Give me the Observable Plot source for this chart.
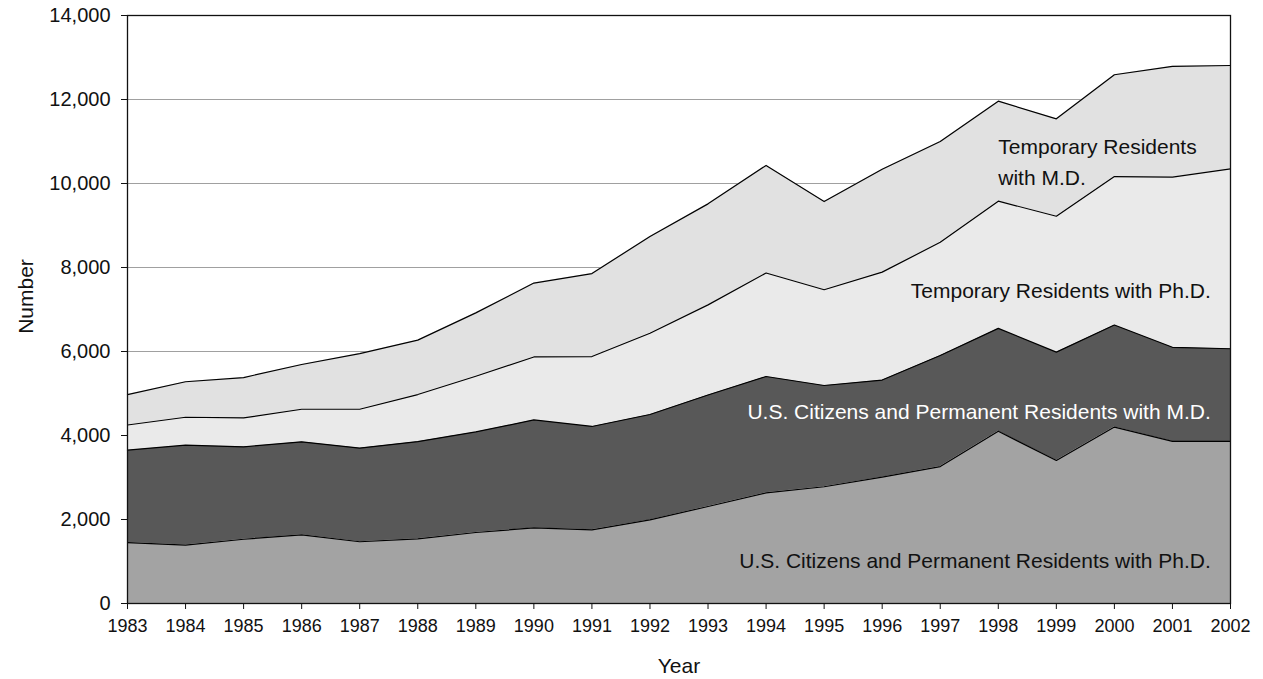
<!DOCTYPE html>
<html>
<head>
<meta charset="utf-8">
<script src="https://cdn.jsdelivr.net/npm/d3@7"></script>
<script src="https://cdn.jsdelivr.net/npm/@observablehq/plot@0.6"></script>
<style>
  html, body { margin: 0; padding: 0; background: #fff; }
  #chart svg { display: block; }
</style>
</head>
<body>
<div id="chart"></div>
<script>
// ---- Data ----
const years = [1983, 1984, 1985, 1986, 1987, 1988, 1989, 1990, 1991, 1992,
               1993, 1994, 1995, 1996, 1997, 1998, 1999, 2000, 2001, 2002];

const usPhD   = [1450, 1390, 1530, 1635, 1470, 1540, 1690, 1800, 1755, 1990,
                 2310, 2635, 2780, 3008, 3260, 4100, 3405, 4200, 3860, 3860];
const usMD    = [2200, 2380, 2200, 2215, 2230, 2315, 2395, 2570, 2460, 2510,
                 2655, 2770, 2410, 2312, 2645, 2450, 2580, 2430, 2240, 2205];
const tempPhD = [ 600,  665,  690,  775,  925, 1120, 1325, 1500, 1665, 1935,
                 2145, 2465, 2280, 2570, 2695, 3030, 3235, 3535, 4050, 4285];
const tempMD  = [ 725,  845,  960, 1065, 1325, 1295, 1510, 1760, 1975, 2305,
                 2405, 2560, 2100, 2450, 2400, 2380, 2320, 2425, 2640, 2460];

const seriesNames = [
  "U.S. Citizens and Permanent Residents with Ph.D.",
  "U.S. Citizens and Permanent Residents with M.D.",
  "Temporary Residents with Ph.D.",
  "Temporary Residents with M.D."
];
const seriesValues = [usPhD, usMD, tempPhD, tempMD];
const seriesColors = ["#a3a3a3", "#585858", "#eaeaea", "#e1e1e1"];

const yTicks = [0, 2000, 4000, 6000, 8000, 10000, 12000, 14000];
const gridTicks = [2000, 4000, 6000, 8000, 10000, 12000];

// long table for the library
const data = seriesNames.flatMap((name, i) =>
  years.map((year, j) => ({year, series: name, value: seriesValues[i][j]}))
);

// in-chart labels (data coordinates)
const endLabels = [
  {text: seriesNames[0], year: 2001.66, value: 1010, color: "#111"},
  {text: seriesNames[1], year: 2001.66, value: 4560, color: "#fff"},
  {text: seriesNames[2], year: 2001.66, value: 7440, color: "#111"}
];
const startLabels = [
  {text: "Temporary Residents\nwith M.D.", year: 1998.0, value: 10570, color: "#111"}
];

const font = "'Liberation Sans', Arial, Helvetica, sans-serif";
const stackOpts = {x: "year", y: "value", z: "series", order: seriesNames};

const chart = Plot.plot({
  width: 1263,
  height: 679,
  marginLeft: 127,
  marginRight: 33,
  marginTop: 15,
  marginBottom: 76,
  style: {fontFamily: font, fontSize: "18px", color: "#111", background: "#fff"},
  x: {domain: [1983, 2002]},
  y: {domain: [0, 14000]},
  color: {domain: seriesNames, range: seriesColors},
  marks: [
    Plot.gridY(gridTicks, {stroke: "#a0a0a0", strokeOpacity: 1}),
    Plot.areaY(data, Plot.stackY({...stackOpts, fill: "series"})),
    Plot.lineY(data, Plot.stackY2({...stackOpts, stroke: "black", strokeWidth: 1.2})),
    Plot.text(endLabels, {
      x: "year", y: "value", text: "text", fill: "color",
      textAnchor: "end", lineAnchor: "middle", fontSize: 21
    }),
    Plot.text(startLabels, {
      x: "year", y: "value", text: "text", fill: "color",
      textAnchor: "start", lineAnchor: "middle", fontSize: 21, lineHeight: 1.45
    }),
    Plot.frame({stroke: "#111", strokeWidth: 1.3}),
    Plot.axisY(yTicks, {
      tickFormat: d3.format(","), tickSize: 6, tickPadding: 11,
      label: null, fontSize: 20, stroke: "#111"
    }),
    Plot.axisX(years, {
      tickFormat: "d", tickSize: 6, tickPadding: 10,
      label: null, fontSize: 18, stroke: "#111"
    }),
    Plot.text(["Number"], {
      frameAnchor: "left", textAnchor: "middle", lineAnchor: "middle",
      rotate: -90, dx: -101, dy: -13, fontSize: 21, fill: "#111"
    }),
    Plot.text(["Year"], {
      frameAnchor: "bottom", textAnchor: "middle", lineAnchor: "middle",
      dy: 63, fontSize: 21, fill: "#111"
    })
  ]
});

document.getElementById("chart").appendChild(chart);
</script>
</body>
</html>
